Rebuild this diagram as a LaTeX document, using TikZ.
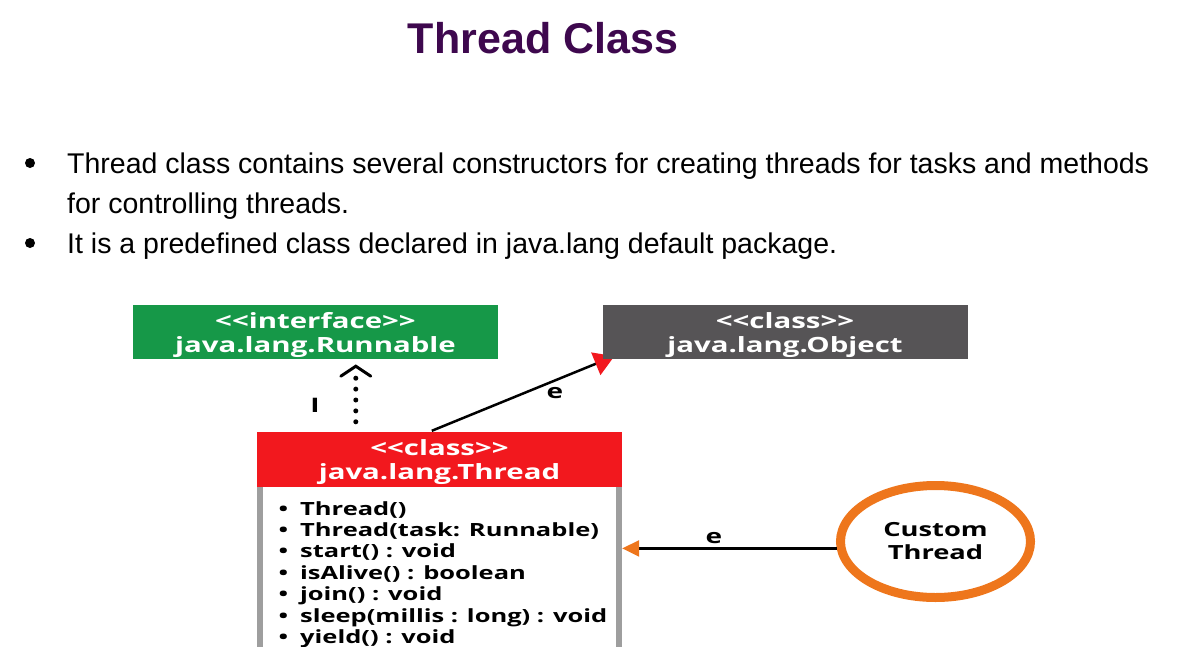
\documentclass[tikz,border=0pt]{standalone}
\usepackage{fontspec}
\setmainfont{Liberation Sans}
\newfontfamily\umlfont{Open Sans}[FakeStretch=1.4]
\usetikzlibrary{arrows.meta,shapes.geometric,calc}
\pgfdeclarelayer{background}
\pgfsetlayers{background,main}

\definecolor{titlepurple}{RGB}{62,8,78}
\definecolor{ifgreen}{RGB}{22,152,72}
\definecolor{objgray}{RGB}{86,84,86}
\definecolor{classred}{RGB}{242,24,30}
\definecolor{bodygray}{RGB}{158,158,158}
\definecolor{customorange}{RGB}{238,118,28}

% stereotype brackets kept as plain characters
\newcommand\stereo[1]{\rule{0pt}{22pt}<\kern0pt<#1>\kern0pt>}

\begin{document}
\begin{tikzpicture}[x=1pt,y=-1pt,
  umlbox/.style={rectangle, minimum width=365pt, minimum height=54pt, inner sep=0pt,
    text=white, align=center, font=\umlfont\bfseries\fontsize{21}{24}\selectfont},
  bullettext/.style={anchor=base west, inner sep=0pt, font=\fontsize{28.5}{40}\selectfont},
  member/.style={anchor=base west, inner sep=0pt, font=\umlfont\bfseries\fontsize{18.2}{21}\selectfont},
  edgelabel/.style={inner sep=0pt, font=\umlfont\bfseries\fontsize{20}{24}\selectfont},
  conn/.style={line width=2.5pt},
  dotconn/.style={line width=5pt, line cap=round, dash pattern=on 0pt off 10.9pt}]
\useasboundingbox (0,0) rectangle (1184,646);

% heading
\node[font=\bfseries\fontsize{43}{50}\selectfont, text=titlepurple] (title) at (543,38) {Thread Class};

% bullet points
\fill (30,163) circle (5pt);
\fill (30,243) circle (5pt);
\node[bullettext] (line1) at (67,173) {Thread class contains several constructors for creating threads for tasks and methods};
\node[bullettext] (line2) at (67,213) {for controlling threads.};
\node[bullettext] (line3) at (67,253) {It is a predefined class declared in java.lang default package.};

% class boxes
\node[umlbox, fill=ifgreen] (runnable) at (315.5,332) {\stereo{interface}\\java.lang.Runnable};
\node[umlbox, fill=objgray] (object) at (785,332) {\stereo{class}\\java.lang.Object};
\node[umlbox, fill=classred, minimum height=55pt] (threadhead) at (439.5,459.5) {\stereo{class}\\java.lang.Thread};
\node[rectangle, fill=white, minimum width=365pt, minimum height=180pt, inner sep=0pt, anchor=north] (threadbody) at (threadhead.south) {};
\draw[bodygray, line width=6pt] ([xshift=3pt]threadbody.north west) -- ([xshift=3pt]threadbody.south west);
\draw[bodygray, line width=6pt] ([xshift=-3pt]threadbody.north east) -- ([xshift=-3pt]threadbody.south east);

% members
\foreach \t [count=\i] in {Thread(), Thread(task: Runnable), start() : void, isAlive() : boolean,
    join() : void, sleep(millis : long) : void, yield() : void}
  \node[member] (m\i) at (300,{515+21.4*(\i-1)}) {\llap{\textbullet\hspace{12pt}}\t};

% custom thread
\node[ellipse, draw=customorange, line width=9pt, minimum width=190pt, minimum height=112pt,
  inner sep=0pt, align=center, font=\umlfont\bfseries\fontsize{19.5}{23}\selectfont] (custom) at (935.5,541.5) {Custom\\Thread};

% connectors
\draw[dotconn] ($(threadhead.north west)+(99,-10)$) -- ($(runnable.south west)+(223,19)$);
\draw[line width=3pt, line cap=round, line join=miter] ($(runnable.south west)+(208,17)$) -- ($(runnable.south west)+(223,7)$) -- ($(runnable.south west)+(238,17)$);
\begin{pgfonlayer}{background}
\draw[conn, -{Triangle[length=20pt, width=24pt, color=classred]}] ($(threadhead.north west)+(175,-1)$) -- ($(object.south west)+(12,-3)$);
\end{pgfonlayer}
\draw[conn, -{Triangle[length=17pt, width=16pt, color=customorange]}] (custom.184) -- (custom.184 -| threadbody.east);

% edge labels
\node[edgelabel] (lblI) at (315,405) {I};
\node[edgelabel] (lblE1) at (555,393) {e};
\node[edgelabel] (lblE2) at (714,538) {e};
\end{tikzpicture}
\end{document}
